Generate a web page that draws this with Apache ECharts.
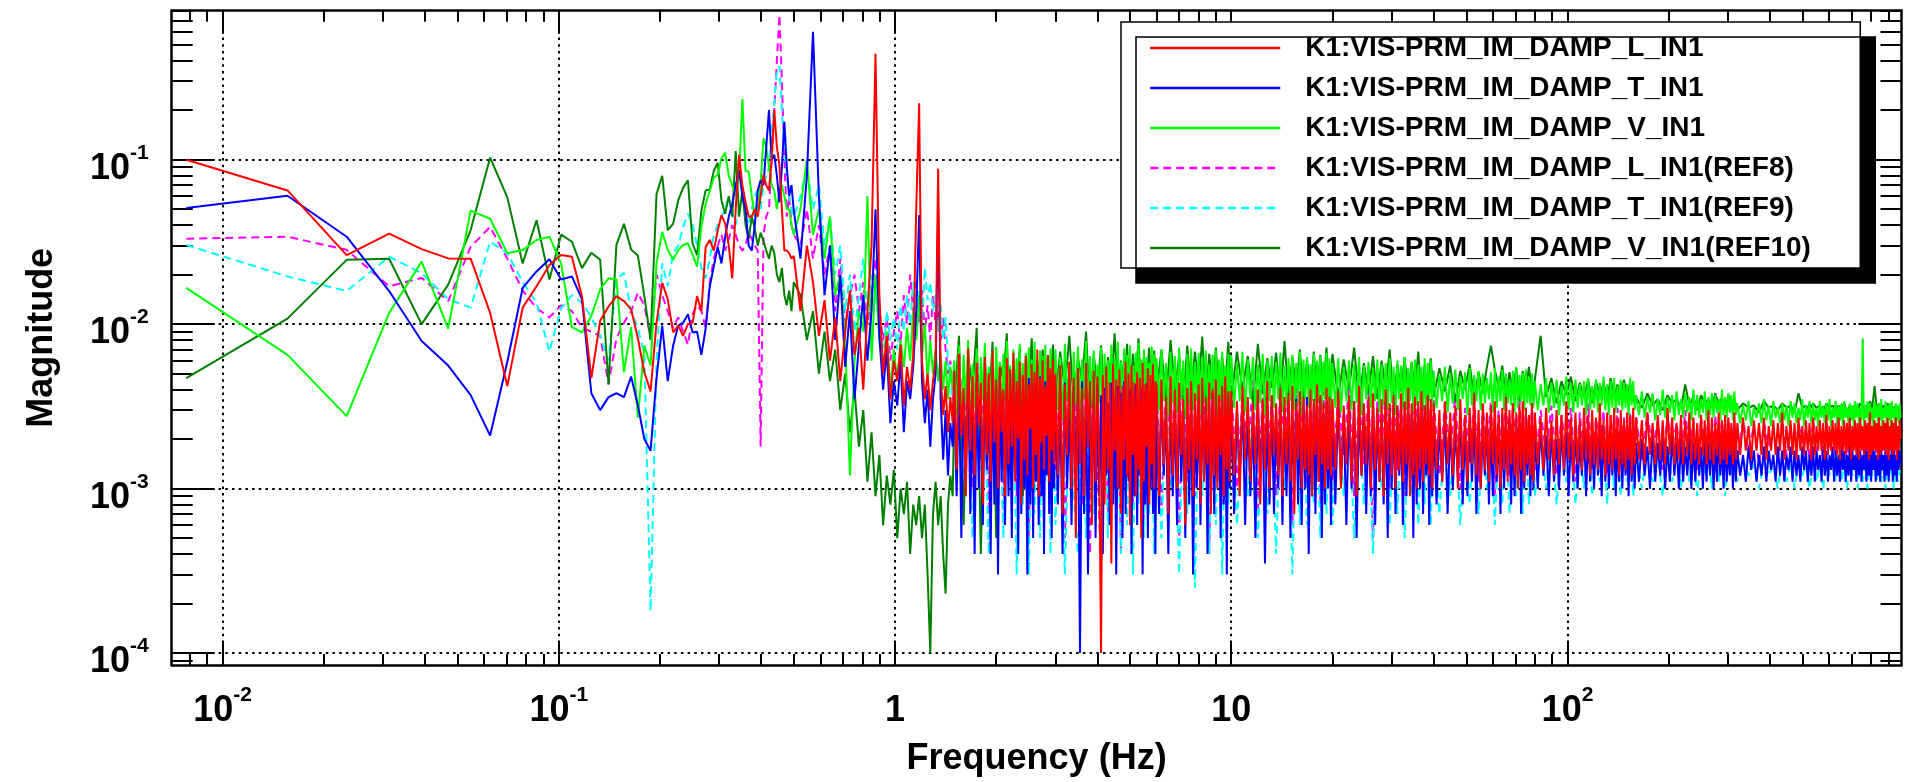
<!DOCTYPE html>
<html>
<head>
<meta charset="utf-8">
<script src="https://cdn.jsdelivr.net/npm/echarts@6/dist/echarts.min.js"></script>
<style>
html,body{margin:0;padding:0;background:#fff;}
#chart{width:1914px;height:782px;}
</style>
</head>
<body>
<div id="chart"></div>
<script>
// ---------------- DATA ----------------
const seriesNames = [
  'K1:VIS-PRM_IM_DAMP_L_IN1',
  'K1:VIS-PRM_IM_DAMP_T_IN1',
  'K1:VIS-PRM_IM_DAMP_V_IN1',
  'K1:VIS-PRM_IM_DAMP_L_IN1(REF8)',
  'K1:VIS-PRM_IM_DAMP_T_IN1(REF9)',
  'K1:VIS-PRM_IM_DAMP_V_IN1(REF10)'
];
const xTickValues = [0.01, 0.1, 1, 10, 100];
const yTickValues = [0.0001, 0.001, 0.01, 0.1];
const xMinorTicks = [0.008,0.009,0.02,0.03,0.04,0.05,0.06,0.07,0.08,0.09,0.2,0.3,0.4,0.5,0.6,0.7,0.8,0.9,2,3,4,5,6,7,8,9,20,30,40,50,60,70,80,90,200,300,400,500,600,700,800,900];
const yMinorTicks = [0.00009,0.0002,0.0003,0.0004,0.0005,0.0006,0.0007,0.0008,0.0009,0.002,0.003,0.004,0.005,0.006,0.007,0.008,0.009,0.02,0.03,0.04,0.05,0.06,0.07,0.08,0.09,0.2,0.3,0.4,0.5,0.6,0.7,0.8];

// frequency grid (Hz) below 1.5 Hz, shared by all traces
const freqLo = [.0078,.0156,.0234,.0313,.0391,.0469,.0547,.0625,.0703,.0781,.0859,.0938,.1016,.1094,.1172,.125,.1328,.1406,.1484,.1563,.1641,.1719,.1797,.1875,.1953,.2031,.2109,.2188,.2266,.2344,.2422,.25,.2578,.2656,.2734,.2813,.2891,.2969,.3047,.3125,.3203,.3281,.3359,.3438,.3516,.3594,.3672,.375,.3828,.3906,.3984,.4063,.4141,.4219,.4297,.4375,.4453,.4531,.4609,.4688,.4766,.4844,.4922,.5,
.5234,.5469,.5703,.5938,.6172,.6406,.6641,.6875,.7109,.7344,.7578,.7813,.8047,.8281,.8516,.875,.8984,.9219,.9453,.9688,.9922,1.0156,1.0391,1.0625,1.0859,1.1094,1.1328,1.1563,1.1797,1.2031,1.2266,1.25,1.2734,1.2969,1.3203,1.3438,1.3672,1.3906,1.4141,1.4375,1.4609,1.4844];
// frequency grid (Hz) above 1.5 Hz for the reference traces
const freqHi = [1.50,1.55,1.60,1.65,1.70,1.75,1.80,1.85,1.90,1.95,2.00,2.05,2.10,2.15,2.20,2.25,2.30,2.35,2.40,2.45,2.50,2.55,2.60,2.65,2.70,2.75,2.80,2.85,2.90,2.95,
3.0,3.1,3.2,3.3,3.4,3.5,3.6,3.7,3.8,3.9,4.0,4.1,4.2,4.3,4.4,4.5,4.6,4.7,4.8,4.9,5.0,5.1,5.2,5.3,5.4,5.5,5.6,5.7,5.8,5.9,
6.0,6.2,6.4,6.6,6.8,7.0,7.2,7.4,7.6,7.8,8.0,8.2,8.4,8.6,8.8,9.0,9.2,9.4,9.6,9.8,
10,10.4,10.8,11.2,11.6,12,12.4,12.8,13.2,13.6,14,14.4,14.8,15.2,15.6,16,16.4,16.8,17.2,17.6,18,18.4,18.8,19.2,19.6,
20,20.8,21.6,22.4,23.2,24,24.8,25.6,26.4,27.2,28,28.8,29.6,30.4,31.2,32,32.8,33.6,34.4,35.2,36,36.8,37.6,38.4,39.2,
40,41.6,43.2,44.8,46.4,48,49.6,51.2,52.8,54.4,56,57.6,59.2,60.8,62.4,64,65.6,67.2,68.8,70.4,72,73.6,75.2,76.8,78.4,
80,83.2,86.4,89.6,92.8,96,99.2,102.4,105.6,108.8,112,115.2,118.4,121.6,124.8,128,131.2,134.4,137.6,140.8,144,147.2,150.4,153.6,156.8,
160,166.4,172.8,179.2,185.6,192,198.4,204.8,211.2,217.6,224,230.4,236.8,243.2,249.6,256,262.4,268.8,275.2,281.6,288,294.4,300.8,307.2,313.6,
320,332.8,345.6,358.4,371.2,384,396.8,409.6,422.4,435.2,448,460.8,473.6,486.4,499.2,512,524.8,537.6,550.4,563.2,576,588.8,601.6,614.4,627.2,640,652.8,665.6,678.4,691.2,704,716.8,729.6,742.4,755.2,768,780.8,793.6,806.4,819.2,832,844.8,857.6,870.4,883.2,896,908.8,921.6,934.4,947.2,960,972.8];
// denser frequency grid (Hz) above 1.5 Hz for the live traces
const freqHiD = [1.5,1.525,1.55,1.575,1.6,1.625,1.65,1.675,1.7,1.725,1.75,1.775,1.8,1.825,1.85,1.875,1.9,1.925,1.95,1.975,2,2.025,2.05,2.075,2.1,2.125,2.15,2.175,2.2,2.225,2.25,2.275,2.3,2.325,2.35,2.375,2.4,2.425,2.45,2.475,2.5,2.525,2.55,2.575,2.6,2.625,2.65,2.675,2.7,2.725,2.75,2.775,2.8,2.825,2.85,2.875,2.9,2.925,2.95,2.975,
3,3.05,3.1,3.15,3.2,3.25,3.3,3.35,3.4,3.45,3.5,3.55,3.6,3.65,3.7,3.75,3.8,3.85,3.9,3.95,4,4.05,4.1,4.15,4.2,4.25,4.3,4.35,4.4,4.45,4.5,4.55,4.6,4.65,4.7,4.75,4.8,4.85,4.9,4.95,5,5.05,5.1,5.15,5.2,5.25,5.3,5.35,5.4,5.45,5.5,5.55,5.6,5.65,5.7,5.75,5.8,5.85,5.9,5.95,
6,6.1,6.2,6.3,6.4,6.5,6.6,6.7,6.8,6.9,7,7.1,7.2,7.3,7.4,7.5,7.6,7.7,7.8,7.9,8,8.1,8.2,8.3,8.4,8.5,8.6,8.7,8.8,8.9,9,9.1,9.2,9.3,9.4,9.5,9.6,9.7,9.8,9.9,
10,10.2,10.4,10.6,10.8,11,11.2,11.4,11.6,11.8,12,12.2,12.4,12.6,12.8,13,13.2,13.4,13.6,13.8,14,14.2,14.4,14.6,14.8,15,15.2,15.4,15.6,15.8,16,16.2,16.4,16.6,16.8,17,17.2,17.4,17.6,17.8,18,18.2,18.4,18.6,18.8,19,19.2,19.4,19.6,19.8,
20,20.4,20.8,21.2,21.6,22,22.4,22.8,23.2,23.6,24,24.4,24.8,25.2,25.6,26,26.4,26.8,27.2,27.6,28,28.4,28.8,29.2,29.6,30,30.4,30.8,31.2,31.6,32,32.4,32.8,33.2,33.6,34,34.4,34.8,35.2,35.6,36,36.4,36.8,37.2,37.6,38,38.4,38.8,39.2,39.6,
40,40.8,41.6,42.4,43.2,44,44.8,45.6,46.4,47.2,48,48.8,49.6,50.4,51.2,52,52.8,53.6,54.4,55.2,56,56.8,57.6,58.4,59.2,60,60.8,61.6,62.4,63.2,64,64.8,65.6,66.4,67.2,68,68.8,69.6,70.4,71.2,72,72.8,73.6,74.4,75.2,76,76.8,77.6,78.4,79.2,
80,81.6,83.2,84.8,86.4,88,89.6,91.2,92.8,94.4,96,97.6,99.2,100.8,102.4,104,105.6,107.2,108.8,110.4,112,113.6,115.2,116.8,118.4,120,121.6,123.2,124.8,126.4,128,129.6,131.2,132.8,134.4,136,137.6,139.2,140.8,142.4,144,145.6,147.2,148.8,150.4,152,153.6,155.2,156.8,158.4,
160,163.2,166.4,169.6,172.8,176,179.2,182.4,185.6,188.8,192,195.2,198.4,201.6,204.8,208,211.2,214.4,217.6,220.8,224,227.2,230.4,233.6,236.8,240,243.2,246.4,249.6,252.8,256,259.2,262.4,265.6,268.8,272,275.2,278.4,281.6,284.8,288,291.2,294.4,297.6,300.8,304,307.2,310.4,313.6,316.8,
320,326.4,332.8,339.2,345.6,352,358.4,364.8,371.2,377.6,384,390.4,396.8,403.2,409.6,416,422.4,428.8,435.2,441.6,448,454.4,460.8,467.2,473.6,480,486.4,492.8,499.2,505.6,512,518.4,524.8,531.2,537.6,544,550.4,556.8,563.2,569.6,576,582.4,588.8,595.2,601.6,608,614.4,620.8,627.2,633.6,640,646.4,652.8,659.2,665.6,672,678.4,684.8,691.2,697.6,704,710.4,716.8,723.2,729.6,736,742.4,748.8,755.2,761.6,768,774.4,780.8,787.2,793.6,800,806.4,812.8,819.2,825.6,832,838.4,844.8,851.2,857.6,864,870.4,876.8,883.2,889.6,896,902.4,908.8,915.2,921.6,928,934.4,940.8,947.2,953.6,960,966.4,972.8,979.2];

// magnitudes, L (red)
const magL_lo = [.100,.065,.0263,.0355,.0286,.0251,.025,.0117,.0042,.0126,.017,.0229,.0263,.0257,.0148,.0047,.0105,.0128,.0148,.0138,.0123,.0082,.0051,.0039,.0102,.0178,.0142,.0089,.0098,.0085,.0100,.0102,.0148,.012,.0295,.0325,.028,.037,.046,.041,.03,.019,.05,.107,.07,.055,.045,.045,.05,.045,.06,.081,.07,.065,.1,.2,.12,.093,.05,.028,.028,.027,.025,.026,
.012,.030,.018,.0085,.014,.006,.011,.0045,.009,.016,.0065,.0095,.0040,.012,.030,.44,.015,.005,.0085,.0035,.006,.0045,.0075,.0032,.0055,.004,.0065,.05,.22,.006,.0035,.005,.003,.0045,.006,.088,.005,.0028,.0042,.0022,.0036,.0025];
const magL_hi = [.0052,.0013,.0066,.0021,.0041,.0009,.0071,.0017,.0048,.0012,.0058,.0024,.0044,.0008,.0063,.0016,.0050,.0011,.0069,.0019,.0046,.0010,.0055,.0022,.0040,.0009,.0062,.0014,.0053,.0018,.0067,.0011,.0045,.0020,.0059,.0008,.0049,.0015,.0064,.0012,.0043,.0023,.0057,.0010,.0051,.0016,.0070,.0009,.0047,.0019,.0060,.0013,.0042,.0021,.0065,.0011,.0054,.0017,.0061,.0014,
.0050,.0012,.0056,.0007,.0043,.0016,.0059,.0010,.0047,.0005,.0054,.0014,.0041,.0009,.0058,.0018,.0045,.0006,.0052,.0011,.0048,.0015,.0001,.0049,.0008,.0055,.0013,.0044,.00035,.0057,.0017,.0046,.0010,.0053,.0007,.0042,.0015,.0059,.0012,.0050,.0006,.0056,.0016,.0044,.0009,.0051,.0013,.0047,.0005,.0058,.0011,.0043,.0018,.0054,.0008,.0049,.0014,.0057,.0010,.0045,
.0042,.0009,.0046,.0014,.0036,.0007,.0048,.0012,.0040,.0010,.0044,.0016,.0035,.0006,.0041,.0013,.0045,.0009,.0038,.0015,.0043,.0008,.0047,.0011,.0036,.0014,.0044,.0007,.0040,.0012,.0046,.0010,.0037,.0016,.0042,.0009,.0048,.0013,.0039,.0011,
.0039,.0012,.0034,.0009,.0042,.0015,.0036,.0011,.0033,.0014,.0040,.0008,.0035,.0013,.0045,.0010,.0037,.0016,.0033,.0012,.0041,.0009,.0036,.0014,.0038,.0011,.0042,.0007,.0034,.0015,.0039,.0010,.0036,.0013,.0032,.0012,.0040,.0009,.0035,.0016,.0043,.0011,.0037,.0014,.0033,.0010,.0041,.0013,.0036,.0012,
.0035,.0013,.0039,.0010,.0032,.0014,.0037,.0011,.0034,.0009,.0042,.0012,.0033,.0014,.0036,.0010,.0038,.0013,.0031,.0011,.0035,.0009,.0040,.0014,.0033,.0012,.0037,.0010,.0032,.0013,.0038,.0011,.0034,.0014,.0041,.0009,.0033,.0012,.0036,.0010,.0034,.0013,.0039,.0011,.0032,.0014,.0037,.0012,.0035,.0010,
.0033,.0013,.0030,.0011,.0034,.0014,.0029,.0012,.0032,.0010,.0035,.0013,.0028,.0011,.0031,.0014,.0038,.0012,.0030,.0010,.0033,.0013,.0029,.0011,.0032,.0014,.0034,.0012,.0028,.0010,.0031,.0013,.0036,.0011,.0030,.0014,.0033,.0012,.0029,.0010,.0032,.0013,.0034,.0011,.0031,.0014,.0028,.0012,.0033,.0011,
.0029,.0014,.0027,.0013,.0031,.0015,.0026,.0012,.0030,.0014,.0028,.0013,.0034,.0015,.0027,.0012,.0029,.0014,.0026,.0013,.0031,.0015,.0028,.0012,.0030,.0014,.0027,.0013,.0033,.0015,.0026,.0012,.0029,.0014,.0028,.0013,.0031,.0015,.0027,.0012,.0030,.0014,.0026,.0013,.0029,.0015,.0028,.0012,.0031,.0014,
.0027,.0015,.0026,.0014,.0029,.0016,.0025,.0014,.0028,.0015,.0026,.0014,.0031,.0016,.0027,.0014,.0025,.0015,.0028,.0014,.0026,.0016,.0029,.0014,.0027,.0015,.0025,.0014,.0028,.0016,.0026,.0014,.0030,.0015,.0027,.0014,.0025,.0016,.0029,.0014,.0026,.0015,.0028,.0014,.0027,.0016,.0025,.0014,.0029,.0015,
.0025,.0016,.0027,.0017,.0024,.0015,.0026,.0017,.0025,.0016,.0027,.0015,.0024,.0017,.0026,.0016,.0025,.0017,.0029,.0015,.0024,.0017,.0026,.0016,.0025,.0015,.0027,.0017,.0024,.0016,.0026,.0017,.0025,.0015,.0027,.0016,.0024,.0017,.0026,.0017,.0025,.0015,.0028,.0016,.0024,.0017,.0026,.0017,.0025,.0016,.0027,.0015,.0024,.0017,.0026,.0016,.0025,.0017,.0027,.0015,.0024,.0017,.0026,.0016,.0025,.0015,.0027,.0017,.0024,.0016,.0026,.0017,.0025,.0015,.0029,.0016,.0024,.0017,.0026,.0017,.0025,.0015,.0027,.0016,.0024,.0017,.0026,.0017,.0025,.0016,.0027,.0015,.0024,.0017,.0026,.0016,.0025,.0017,.0027,.0015,.0024,.0017,.0026,.0020];

// magnitudes, T (blue)
const magT_lo = [.0508,.0603,.034,.0159,.0079,.0056,.0037,.0021,.0059,.0166,.0209,.0248,.0187,.0195,.0142,.0038,.003,.0036,.0038,.0036,.0048,.0032,.002,.0017,.0047,.0098,.0045,.0074,.0098,.0102,.0115,.0089,.009,.0065,.0094,.017,.0224,.0295,.0234,.034,.045,.054,.07,.086,.06,.05,.03,.028,.04,.065,.075,.07,.12,.2,.1,.107,.08,.055,.09,.17,.09,.06,.07,.049,
.025,.08,.60,.06,.015,.03,.008,.02,.0055,.012,.0035,.0075,.015,.006,.012,.05,.0085,.004,.007,.0025,.0045,.0032,.006,.0022,.0045,.0035,.0055,.012,.046,.0045,.0025,.004,.0018,.0035,.005,.05,.0035,.0015,.003,.0012,.0025,.0018];
const magT_hi = [.0040,.0009,.0047,.0005,.0036,.0012,.0050,.0007,.0039,.0004,.0044,.0010,.0035,.0006,.0048,.0013,.0038,.0004,.0045,.0008,.0041,.0003,.0049,.0011,.0037,.0006,.0043,.0009,.0036,.0005,.0046,.0012,.0039,.0004,.0050,.0007,.0042,.0010,.0035,.0003,.0047,.0008,.0040,.0005,.0044,.0011,.0038,.0006,.0048,.0009,.0036,.0004,.0045,.0012,.0041,.0007,.0049,.0005,.0037,.0010,
.0041,.0008,.0036,.0004,.0044,.0010,.0033,.0006,.0042,.0012,.0038,.0001,.0045,.0007,.0035,.0003,.0040,.0011,.0034,.0005,.0043,.0009,.0037,.0004,.0041,.0012,.0033,.0006,.0044,.0008,.0036,.0003,.0042,.0010,.0038,.0005,.0045,.0007,.0034,.0011,.0040,.0004,.0037,.0009,.0043,.0006,.0035,.0012,.0041,.0003,.0039,.0008,.0044,.0005,.0033,.0010,.0042,.0007,.0036,.0004,
.0034,.0007,.0038,.0012,.0031,.0004,.0036,.0009,.0033,.0006,.0039,.0011,.0030,.0005,.0035,.0008,.0037,.0003,.0032,.0010,.0036,.0006,.0039,.0012,.0031,.0004,.0034,.0009,.0038,.0007,.0030,.0011,.0035,.0005,.0037,.0008,.0032,.0003,.0036,.0010,
.0033,.0007,.0030,.0011,.0035,.0006,.0031,.0009,.0028,.0005,.0034,.0012,.0030,.00035,.0032,.0008,.0036,.0007,.0029,.0010,.0033,.0006,.0031,.0009,.0034,.0005,.0028,.0011,.0035,.0008,.0030,.0006,.0032,.0010,.0036,.0004,.0029,.0009,.0033,.0007,.0031,.0011,.0035,.0005,.0028,.0008,.0034,.0010,.0030,.0006,
.0030,.0008,.0033,.0011,.0028,.0006,.0031,.0010,.0034,.0005,.0029,.0012,.0032,.0007,.0027,.0009,.0033,.0006,.0030,.0011,.0028,.0008,.0034,.0005,.0031,.0010,.0029,.0007,.0032,.0012,.0027,.0006,.0033,.0009,.0030,.0011,.0028,.0005,.0034,.0008,.0031,.0010,.0029,.0007,.0032,.0012,.0027,.0006,.0030,.0009,
.0026,.0008,.0024,.0011,.0028,.0007,.0025,.0010,.0023,.0012,.0027,.0008,.0024,.0009,.0026,.0011,.0028,.0007,.0025,.0010,.0023,.0012,.0027,.0008,.0024,.0009,.0026,.0011,.0025,.0007,.0028,.0010,.0023,.0012,.0027,.0008,.0024,.0009,.0026,.0011,.0025,.0007,.0028,.0010,.0023,.0012,.0027,.0009,.0024,.0010,
.0022,.0010,.0024,.0012,.0021,.0009,.0023,.0011,.0020,.0010,.0024,.0012,.0022,.0009,.0021,.0011,.0023,.0010,.0020,.0012,.0024,.0009,.0022,.0011,.0021,.0010,.0023,.0012,.0020,.0009,.0024,.0011,.0022,.0010,.0021,.0012,.0023,.0009,.0020,.0011,.0024,.0010,.0022,.0012,.0021,.0009,.0023,.0011,.0020,.0010,
.0019,.0011,.0020,.0012,.0018,.0010,.0021,.0011,.0019,.0012,.0020,.0010,.0018,.0011,.0021,.0012,.0019,.0010,.0020,.0011,.0018,.0012,.0021,.0010,.0019,.0011,.0020,.0012,.0018,.0010,.0021,.0011,.0019,.0012,.0020,.0010,.0018,.0011,.0021,.0012,.0019,.0010,.0020,.0011,.0018,.0012,.0021,.0010,.0019,.0011,
.0017,.0012,.0016,.0011,.0018,.0013,.0017,.0011,.0016,.0012,.0018,.0011,.0017,.0013,.0016,.0011,.0018,.0012,.0017,.0011,.0016,.0013,.0018,.0011,.0017,.0012,.0016,.0011,.0018,.0013,.0017,.0011,.0016,.0012,.0018,.0011,.0017,.0013,.0016,.0011,.0018,.0012,.0017,.0011,.0016,.0013,.0018,.0011,.0017,.0012,.0016,.0011,.0018,.0013,.0017,.0011,.0016,.0012,.0018,.0011,.0017,.0013,.0016,.0011,.0018,.0012,.0017,.0011,.0016,.0013,.0018,.0011,.0017,.0012,.0016,.0011,.0018,.0013,.0017,.0011,.0016,.0012,.0018,.0011,.0017,.0013,.0016,.0011,.0018,.0012,.0017,.0011,.0016,.0013,.0018,.0011,.0017,.0012,.0016,.0011,.0018,.0013,.0017,.0014];

// magnitudes, V (green)
const magV_lo = [.0166,.0065,.00276,.0117,.024,.0094,.049,.0437,.027,.0282,.0325,.034,.0234,.0096,.0089,.0112,.0163,.019,.0187,.0051,.0096,.0027,.0074,.0056,.0234,.0364,.0282,.0246,.0282,.0303,.031,.0265,.0224,.039,.0537,.0646,.078,.081,.102,.11,.08,.07,.06,.08,.234,.085,.085,.06,.045,.05,.071,.135,.12,.09,.07,.065,.05,.065,.07,.06,.05,.05,.04,.035,
.05,.1,.035,.05,.025,.045,.015,.02,.008,.0012,.006,.012,.009,.06,.006,.02,.008,.005,.009,.004,.007,.0045,.008,.0055,.0095,.006,.012,.008,.015,.0065,.01,.0045,.008,.005,.007,.0045,.0065,.004,.006,.0035,.0055,.004];
const magV_hi = [.0060,.0028,.0074,.0022,.0065,.0033,.0080,.0025,.0057,.0031,.0071,.0020,.0063,.0035,.0077,.0026,.0055,.0030,.0068,.0023,.0073,.0032,.0059,.0021,.0066,.0034,.0079,.0027,.0056,.0029,.0070,.0024,.0062,.0033,.0076,.0022,.0058,.0031,.0067,.0026,.0072,.0028,.0061,.0035,.0078,.0023,.0054,.0030,.0069,.0025,.0064,.0032,.0075,.0021,.0060,.0034,.0071,.0027,.0057,.0029,
.0070,.0030,.0063,.0026,.0076,.0034,.0058,.0024,.0068,.0032,.0073,.0027,.0061,.0035,.0079,.0025,.0064,.0031,.0069,.0028,.0057,.0033,.0072,.0023,.0066,.0030,.0060,.0034,.0075,.0026,.0062,.0029,.0078,.0032,.0059,.0024,.0071,.0035,.0065,.0027,.0074,.0031,.0056,.0025,.0067,.0033,.0077,.0028,.0061,.0030,.0070,.0026,.0063,.0034,.0058,.0029,.0073,.0032,.0066,.0027,
.0062,.0030,.0070,.0034,.0058,.0028,.0068,.0033,.0064,.0029,.0072,.0035,.0060,.0027,.0066,.0032,.0071,.0030,.0059,.0034,.0067,.0028,.0063,.0033,.0069,.0029,.0057,.0035,.0065,.0031,.0070,.0027,.0061,.0034,.0068,.0030,.0056,.0032,.0066,.0029,
.0065,.0031,.0058,.0034,.0068,.0029,.0061,.0035,.0063,.0030,.0057,.0033,.0066,.0028,.0060,.0034,.0064,.0031,.0059,.0035,.0067,.0029,.0056,.0032,.0062,.0034,.0065,.0030,.0058,.0033,.0068,.0028,.0061,.0035,.0063,.0031,.0057,.0034,.0066,.0029,.0060,.0033,.0064,.0030,.0059,.0035,.0067,.0032,.0062,.0031,
.0058,.0031,.0062,.0029,.0055,.0034,.0060,.0030,.0057,.0033,.0063,.0028,.0056,.0035,.0059,.0031,.0054,.0034,.0061,.0029,.0057,.0032,.0058,.0030,.0062,.0033,.0055,.0028,.0060,.0035,.0056,.0031,.0063,.0030,.0054,.0034,.0059,.0029,.0061,.0032,.0057,.0033,.0055,.0030,.0062,.0028,.0058,.0034,.0060,.0031,
.0052,.0031,.0049,.0034,.0055,.0029,.0050,.0033,.0053,.0030,.0048,.0035,.0051,.0028,.0054,.0032,.0049,.0034,.0052,.0030,.0050,.0033,.0047,.0035,.0051,.0029,.0054,.0031,.0048,.0034,.0053,.0030,.0050,.0033,.0046,.0032,.0052,.0029,.0055,.0031,.0049,.0034,.0051,.0030,.0053,.0033,.0048,.0032,.0050,.0031,
.0045,.0030,.0043,.0032,.0047,.0029,.0044,.0031,.0046,.0028,.0042,.0032,.0048,.0030,.0044,.0029,.0046,.0031,.0043,.0032,.0045,.0028,.0047,.0030,.0042,.0031,.0046,.0029,.0044,.0032,.0048,.0030,.0043,.0028,.0045,.0031,.0047,.0029,.0042,.0032,.0046,.0030,.0044,.0031,.0043,.0028,.0047,.0032,.0045,.0030,
.0037,.0028,.0039,.0027,.0036,.0029,.0038,.0026,.0035,.0028,.0040,.0027,.0036,.0029,.0037,.0026,.0039,.0028,.0035,.0027,.0038,.0029,.0036,.0026,.0040,.0028,.0037,.0027,.0035,.0029,.0039,.0026,.0036,.0028,.0038,.0027,.0037,.0029,.0035,.0026,.0040,.0028,.0036,.0027,.0038,.0029,.0037,.0026,.0039,.0028,
.0033,.0025,.0032,.0026,.0034,.0024,.0031,.0027,.0033,.0025,.0035,.0026,.0032,.0024,.0034,.0027,.0031,.0025,.0033,.0026,.0032,.0024,.0034,.0027,.0033,.0025,.0031,.0026,.0035,.0024,.0032,.0027,.0034,.0025,.0033,.0026,.0031,.0024,.0034,.0027,.0032,.0025,.0033,.0026,.0035,.0024,.0031,.0027,.0034,.0025,.0032,.0026,.0033,.0024,.0034,.0027,.0031,.0025,.0033,.0026,.0032,.0024,.0034,.0027,.0033,.0025,.0031,.0026,.0082,.0024,.0032,.0027,.0034,.0025,.0033,.0026,.0031,.0024,.0034,.0027,.0032,.0025,.0033,.0026,.0035,.0024,.0031,.0027,.0034,.0025,.0032,.0026,.0033,.0024,.0034,.0027,.0031,.0025,.0033,.0026,.0032,.0025,.0033,.0027];

// magnitudes, L reference (magenta)
const magLref_lo = [.0331,.034,.0283,.017,.0191,.0138,.0295,.039,.025,.016,.0125,.011,.013,.012,.0095,.009,.0085,.0043,.0082,.0102,.012,.0155,.013,.0082,.02,.015,.012,.0095,.011,.009,.0075,.0115,.013,.012,.0095,.018,.025,.03,.035,.028,.033,.04,.035,.03,.028,.03,.036,.033,.03,.028,.0018,.035,.045,.05,.1,.2,.4,.76,.3,.1,.045,.06,.04,.035,
.03,.05,.025,.04,.02,.03,.012,.025,.01,.015,.02,.012,.018,.01,.015,.025,.012,.008,.011,.006,.009,.012,.0075,.015,.01,.02,.012,.018,.01,.016,.009,.013,.008,.015,.01,.012,.008,.011,.007,.005,.006,.004];
const magLref_hi = [.0030,.0070,.0018,.0050,.0010,.0068,.0024,.0045,.0007,.0058,.0016,.0048,.0006,.0042,.0020,.0055,.0009,.0047,.0017,.0062,.0005,.0044,.0014,.0052,.0008,.0046,.0019,.0057,.0010,.0043,
.0013,.0050,.0005,.0046,.0017,.0055,.0008,.0041,.0004,.0049,.0015,.0003,.0044,.0007,.0053,.0018,.0040,.0004,.0047,.0012,.0056,.0008,.0043,.0025,.0050,.0006,.0038,.0014,.0052,.0009,
.0045,.0007,.0049,.0016,.0037,.0005,.0053,.0011,.0042,.0009,.0047,.0020,.0035,.0004,.0044,.0013,.0050,.0008,.0039,.0017,
.0043,.0010,.0037,.0016,.0046,.0007,.0040,.0014,.0035,.0009,.0044,.0018,.0038,.0006,.0041,.0012,.0047,.0010,.0036,.0015,.0042,.0008,.0039,.0013,.0045,
.0011,.0038,.0016,.0043,.0009,.0037,.0014,.0041,.0005,.0035,.0017,.0040,.0010,.0044,.0013,.0036,.0009,.0039,.0015,.0042,.0011,.0034,.0016,.0038,.0010,
.0035,.0012,.0033,.0016,.0037,.0010,.0031,.0014,.0036,.0011,.0032,.0017,.0034,.0009,.0030,.0013,.0035,.0012,.0032,.0015,.0036,.0010,.0031,.0014,.0033,
.0013,.0030,.0016,.0032,.0012,.0028,.0017,.0031,.0011,.0029,.0015,.0033,.0013,.0027,.0018,.0030,.0012,.0028,.0016,.0031,.0014,.0027,.0017,.0029,.0013,
.0027,.0015,.0029,.0017,.0026,.0013,.0028,.0018,.0025,.0014,.0030,.0016,.0026,.0013,.0027,.0019,.0025,.0015,.0028,.0016,.0026,.0014,.0027,.0018,.0025,
.0015,.0026,.0017,.0024,.0014,.0025,.0018,.0023,.0015,.0026,.0016,.0024,.0014,.0025,.0019,.0023,.0015,.0026,.0017,.0024,.0014,.0025,.0018,.0023,.0016,.0026,.0016,.0024,.0014,.0025,.0019,.0023,.0015,.0025,.0017,.0024,.0014,.0026,.0018,.0023,.0016,.0025,.0016,.0024,.0014,.0025,.0018,.0023,.0015,.0025,.0017,.0021];

// magnitudes, T reference (cyan)
const magTref_lo = [.0303,.0195,.0159,.0257,.0204,.0142,.0126,.0317,.027,.018,.0135,.0068,.0125,.015,.0135,.011,.0085,.006,.0187,.0205,.012,.0095,.0065,.00018,.006,.0234,.017,.027,.03,.039,.047,.04,.03,.022,.019,.025,.035,.04,.045,.05,.06,.048,.04,.05,.06,.045,.04,.05,.06,.065,.05,.07,.08,.09,.15,.22,.35,.37,.2,.12,.08,.06,.05,.045,
.06,.09,.05,.07,.03,.045,.02,.03,.012,.02,.009,.015,.025,.012,.02,.015,.01,.006,.012,.008,.011,.007,.013,.009,.015,.01,.018,.012,.016,.01,.022,.014,.018,.012,.015,.009,.013,.008,.011,.006,.0045,.0035];
const magTref_hi = [.0022,.0045,.0009,.0036,.0005,.0048,.0013,.0032,.0004,.0041,.0009,.0035,.0005,.0029,.0012,.0039,.0003,.0033,.0008,.0042,.0003,.0030,.0007,.0037,.0005,.0034,.0011,.0040,.0004,.0031,
.0006,.0037,.0003,.0033,.0009,.0004,.0039,.0005,.0030,.0007,.0042,.0003,.0035,.0005,.0038,.0010,.0027,.0004,.0036,.0006,.0040,.0003,.0032,.0008,.0037,.0005,.0029,.0007,.0034,.0004,
.0031,.0005,.0035,.0010,.0028,.0003,.0033,.0007,.0030,.00025,.0036,.0009,.0026,.0004,.0032,.0006,.0034,.0003,.0029,.0008,
.0030,.0006,.0027,.0009,.0032,.0005,.0028,.0007,.0025,.0004,.0031,.0010,.0027,.0003,.0029,.0006,.0033,.0006,.0026,.0008,.0030,.0005,.0028,.0007,.0031,
.0006,.0027,.0009,.0030,.0005,.0026,.0008,.0029,.0004,.0025,.0010,.0028,.0006,.0031,.0007,.0024,.0005,.0027,.0009,.0029,.0006,.0025,.0008,.0027,.0006,
.0023,.0007,.0022,.0009,.0025,.0006,.0021,.0008,.0024,.0007,.0022,.0010,.0023,.0006,.0020,.0008,.0024,.0007,.0021,.0009,.0023,.0007,.0022,.0008,.0021,
.0009,.0020,.0010,.0021,.0008,.0019,.0011,.0020,.0008,.0019,.0010,.0021,.0009,.0018,.0011,.0020,.0008,.0019,.0010,.0021,.0009,.0018,.0011,.0020,.0009,
.0017,.0010,.0018,.0011,.0016,.0009,.0018,.0011,.0016,.0010,.0019,.0011,.0017,.0009,.0017,.0012,.0016,.0010,.0018,.0011,.0016,.0009,.0017,.0012,.0016,
.0011,.0015,.0012,.0014,.0010,.0015,.0012,.0014,.0010,.0016,.0011,.0014,.0010,.0015,.0012,.0014,.0010,.0015,.0011,.0014,.0010,.0015,.0012,.0014,.0011,.0016,.0011,.0014,.0010,.0015,.0012,.0014,.0010,.0015,.0011,.0014,.0010,.0016,.0012,.0014,.0011,.0015,.0011,.0014,.0010,.0015,.0012,.0014,.0010,.0015,.0011,.0013];

// magnitudes, V reference (dark green)
const magVref_lo = [.0047,.0108,.0246,.025,.01,.0174,.0373,.103,.059,.0234,.0428,.0187,.035,.0317,.0219,.0272,.0246,.0043,.0303,.0407,.0284,.0261,.0148,.008,.0617,.0798,.0373,.0407,.0565,.0676,.0748,.0309,.0263,.049,.065,.066,.0856,.0956,.0565,.0468,.06,.045,.113,.045,.065,.04,.033,.045,.038,.03,.036,.032,.028,.025,.03,.027,.02,.018,.022,.015,.013,.016,.012,.018,
.015,.008,.012,.005,.009,.0045,.007,.003,.005,.0022,.004,.0018,.003,.0011,.0022,.0009,.0016,.0006,.0012,.0008,.0013,.0005,.001,.0007,.0011,.0004,.0008,.0006,.0009,.0005,.0008,.0003,.0001,.0007,.0011,.0006,.0009,.0004,.00023,.0008,.0012,.0009];
const magVref_hi = [.0030,.0085,.0006,.0065,.0040,.0095,.0004,.0060,.0030,.0078,.0005,.0058,.0045,.0088,.0020,.0062,.0035,.0072,.0009,.0066,.0040,.0082,.0025,.0060,.0038,.0070,.0030,.0064,.0042,.0075,
.0035,.0068,.0040,.0085,.0032,.0062,.0045,.0090,.0030,.0066,.0038,.0074,.0034,.0063,.0042,.0088,.0036,.0060,.0040,.0076,.0031,.0066,.0044,.0082,.0035,.0062,.0039,.0072,.0033,.0069,
.0038,.0070,.0035,.0080,.0040,.0064,.0033,.0074,.0037,.0068,.0041,.0084,.0034,.0066,.0039,.0072,.0036,.0063,.0042,.0078,
.0035,.0068,.0040,.0064,.0033,.0076,.0038,.0062,.0041,.0067,.0034,.0079,.0037,.0063,.0040,.0070,.0035,.0061,.0039,.0068,.0036,.0065,.0041,.0072,.0034,
.0066,.0036,.0061,.0040,.0072,.0034,.0058,.0038,.0064,.0035,.0060,.0041,.0070,.0033,.0057,.0039,.0063,.0036,.0059,.0040,.0068,.0034,.0056,.0038,.0062,
.0036,.0054,.0039,.0056,.0034,.0052,.0040,.0057,.0035,.0051,.0038,.0055,.0074,.0053,.0041,.0056,.0036,.0051,.0039,.0054,.0034,.0052,.0040,.0055,.0037,
.0046,.0085,.0036,.0047,.0033,.0045,.0037,.0048,.0034,.0044,.0036,.0046,.0033,.0045,.0037,.0044,.0034,.0047,.0036,.0043,.0035,.0046,.0037,.0044,.0034,
.0036,.0031,.0038,.0032,.0035,.0030,.0037,.0033,.0035,.0031,.0043,.0032,.0036,.0030,.0037,.0033,.0035,.0031,.0038,.0032,.0036,.0030,.0037,.0033,.0035,
.0030,.0033,.0031,.0032,.0029,.0034,.0031,.0032,.0030,.0033,.0031,.0032,.0029,.0038,.0031,.0032,.0030,.0033,.0031,.0032,.0029,.0033,.0031,.0032,.0030,.0032,.0031,.0033,.0029,.0032,.0031,.0032,.0030,.0033,.0031,.0032,.0029,.0034,.0031,.0042,.0030,.0033,.0031,.0032,.0029,.0033,.0031,.0032,.0030,.0032,.0031,.0031];

// ---------------- CHART ----------------
const X_MIN = 0.00706, X_MAX = 985;
const Y_MIN = 0.0000846, Y_MAX = 0.805;
const FONT = '"Liberation Sans", Arial, Helvetica, sans-serif';

function zip(fs, ms) {
  const out = [];
  for (let i = 0; i < ms.length && i < fs.length; i++) out.push([fs[i], ms[i]]);
  return out;
}

const seriesSpec = [
  { name: seriesNames[0], data: zip(freqLo, magL_lo).concat(zip(freqHiD, magL_hi)),       color: '#ff0000', dash: 'solid', z: 8 },
  { name: seriesNames[1], data: zip(freqLo, magT_lo).concat(zip(freqHiD, magT_hi)),       color: '#0000ff', dash: 'solid', z: 7 },
  { name: seriesNames[2], data: zip(freqLo, magV_lo).concat(zip(freqHiD, magV_hi)),       color: '#00ff00', dash: 'solid', z: 6 },
  { name: seriesNames[3], data: zip(freqLo, magLref_lo).concat(zip(freqHi, magLref_hi)),  color: '#ff00ff', dash: [8, 5],  z: 3 },
  { name: seriesNames[4], data: zip(freqLo, magTref_lo).concat(zip(freqHi, magTref_hi)),  color: '#00ffff', dash: [8, 5],  z: 4 },
  { name: seriesNames[5], data: zip(freqLo, magVref_lo).concat(zip(freqHi, magVref_hi)),  color: '#008000', dash: 'solid', z: 5 }
];

const rich = {
  b: { fontSize: 36, fontWeight: 'bold', fontFamily: FONT, color: '#000', lineHeight: 44, verticalAlign: 'bottom' },
  s: { fontSize: 21, fontWeight: 'bold', fontFamily: FONT, color: '#000', lineHeight: 24, verticalAlign: 'top' }
};
function fmtPow(v) {
  const e = Math.round(Math.log10(v));
  if (e === 0) return '{b|1}';
  if (e === 1) return '{b|10}';
  return '{b|10}{s|' + e + '}';
}
const dotted = { color: '#000', width: 2, type: [2.5, 4.2] };

function xAx(pos, major, showLine, labels) {
  return {
    type: 'log', position: pos, min: X_MIN, max: X_MAX, logBase: 10,
    axisLine: { show: showLine, onZero: false, lineStyle: { color: '#000', width: 2.5 } },
    axisTick: { show: true, inside: true, length: major ? 23 : 11, customValues: major ? xTickValues : xMinorTicks, lineStyle: { color: '#000', width: 2 } },
    axisLabel: labels ? { show: true, customValues: xTickValues, formatter: fmtPow, rich: rich, margin: 20 } : { show: false },
    splitLine: (labels ? { show: true, lineStyle: dotted } : { show: false }),
    minorTick: { show: false },
    name: labels ? 'Frequency (Hz)' : '',
    nameLocation: 'middle', nameGap: 76,
    nameTextStyle: { fontSize: 36, fontWeight: 'bold', fontFamily: FONT, color: '#000' }
  };
}
function yAx(pos, major, showLine, labels) {
  return {
    type: 'log', position: pos, min: Y_MIN, max: Y_MAX, logBase: 10,
    axisLine: { show: showLine, onZero: false, lineStyle: { color: '#000', width: 2.5 } },
    axisTick: { show: true, inside: true, length: major ? 43 : 21, customValues: major ? yTickValues : yMinorTicks, lineStyle: { color: '#000', width: 2 } },
    axisLabel: labels ? { show: true, customValues: yTickValues, formatter: fmtPow, rich: rich, margin: 23, padding: [10, 0, 0, 0] } : { show: false },
    splitLine: (labels ? { show: true, lineStyle: dotted } : { show: false }),
    minorTick: { show: false },
    name: labels ? 'Magnitude' : '',
    nameLocation: 'middle', nameGap: 112,
    nameTextStyle: { fontSize: 36, fontWeight: 'bold', fontFamily: FONT, color: '#000' }
  };
}

const chart = echarts.init(document.getElementById('chart'), null, { renderer: 'canvas' });
chart.setOption({
  animation: false,
  backgroundColor: '#fff',
  grid: { left: 171.7, right: 12.5, top: 10.7, bottom: 108.2, containLabel: false },
  xAxis: [xAx('bottom', true, true, true), xAx('bottom', false, false, false), xAx('top', true, true, false), xAx('top', false, false, false)],
  yAxis: [yAx('left', true, true, true), yAx('left', false, false, false), yAx('right', true, true, false), yAx('right', false, false, false)],
  legend: {
    data: seriesNames,
    orient: 'vertical',
    left: 1121, top: 22,
    selectedMode: false,
    backgroundColor: '#fff',
    borderColor: '#000', borderWidth: 1.5, borderRadius: 0,
    shadowColor: '#000', shadowBlur: 0, shadowOffsetX: 15, shadowOffsetY: 15,
    padding: [10, 49, 4, 28],
    itemWidth: 130, itemHeight: 20, itemGap: 8,
    itemStyle: { opacity: 0 },
    lineStyle: { width: 2.5 },
    textStyle: { fontSize: 28, fontWeight: 'bold', fontFamily: FONT, color: '#000', lineHeight: 32, width: 506, padding: [0, 0, 0, 20] }
  },
  series: seriesSpec.map(s => ({
    name: s.name, type: 'line', xAxisIndex: 0, yAxisIndex: 0,
    data: s.data,
    symbol: 'none', showSymbol: false, z: s.z,
    clip: true,
    lineStyle: { color: s.color, width: 2, type: s.dash },
    itemStyle: { color: s.color },
    emphasis: { disabled: true }
  }))
});
</script>
</body>
</html>
